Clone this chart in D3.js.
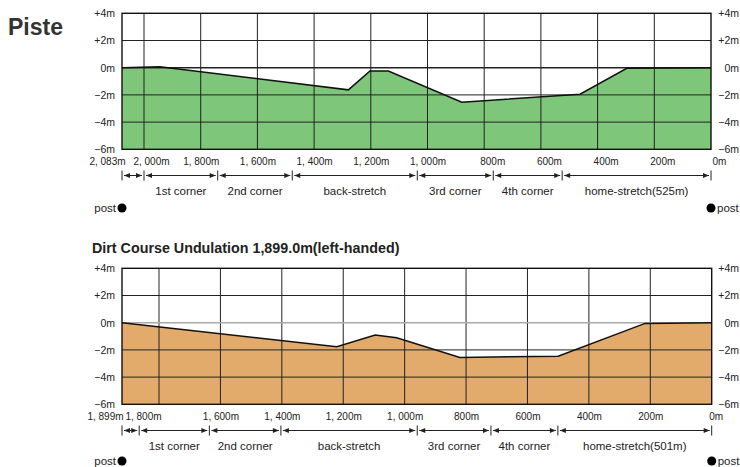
<!DOCTYPE html>
<html>
<head>
<meta charset="utf-8">
<script src="https://cdn.jsdelivr.net/npm/d3@7"></script>
<style>
  body { margin: 0; background: #fff; }
  svg { display: block; font-family: "Liberation Sans", Arial, sans-serif; }
</style>
</head>
<body>
<svg id="piste" width="740" height="467"></svg>
<script>
const elevTicks = [4, 2, 0, -2, -4, -6];

// turf course: distance to the finish (m) and height (m)
const turfDist = [2083, 1944, 1279, 1203, 1138, 879, 462, 297, 0];
const turfElev = [0, 0.07, -1.63, -0.24, -0.24, -2.54, -1.95, -0.04, 0];
const turfDistTicks = [2083, 2000, 1800, 1600, 1400, 1200, 1000, 800, 600, 400, 200, 0];
const turfSectionEnds = [2083, 2000, 1740, 1477, 1036, 768, 525, 0];
const turfSectionNames = ['', '1st corner', '2nd corner', 'back-stretch', '3rd corner', '4th corner', 'home-stretch(525m)'];

// dirt course
const dirtTitle = 'Dirt Course Undulation 1,899.0m(left-handed)';
const dirtDist = [1899, 1221, 1096, 1026, 820, 500, 217, 0];
const dirtElev = [0, -1.76, -0.91, -1.10, -2.55, -2.46, -0.05, 0];
const dirtDistTicks = [1899, 1800, 1600, 1400, 1200, 1000, 800, 600, 400, 200, 0];
const dirtSectionEnds = [1899, 1853, 1636, 1403, 959, 719, 501, 0];
const dirtSectionNames = ['', '1st corner', '2nd corner', 'back-stretch', '3rd corner', '4th corner', 'home-stretch(501m)'];

(function() {
  const svg = d3.select('#piste');

  svg.append('text')
    .attr('x', 8).attr('y', 35)
    .attr('font-size', 23).attr('font-weight', 'bold').attr('fill', '#333')
    .text('Piste');

  svg.append('text')
    .attr('x', 92).attr('y', 252.5)
    .attr('font-size', 14.3).attr('font-weight', 'bold').attr('fill', '#222')
    .text(dirtTitle);

  const panels = [
    {
      dist: turfDist, elev: turfElev, ticks: turfDistTicks,
      ends: turfSectionEnds, names: turfSectionNames,
      fill: '#7dc67a', zero: '#222',
      left: 122, kink: 144, right: 711, top: 13.3, bottom: 149.3,
      arrowY: 175.5, nameY: 194.5, postY: 212,
      nudge: d => d === 2083 ? -15 : d === 2000 ? 7 : d < 1000 ? 8 : 0
    },
    {
      dist: dirtDist, elev: dirtElev, ticks: dirtDistTicks,
      ends: dirtSectionEnds, names: dirtSectionNames,
      fill: '#e2ab6c', zero: '#aaa',
      left: 122, kink: 159, right: 711.7, top: 268.3, bottom: 404.3,
      arrowY: 430.5, nameY: 450, postY: 465,
      nudge: d => d === 1899 ? -17 : d === 1800 ? -16 : d === 0 ? 4 : 0
    }
  ];

  const fmtElev = v => (v > 0 ? '+' + v : v < 0 ? '\u2212' + (-v) : '0') + 'm';
  const fmtDist = d => (d >= 1000 ? d3.format(',')(d).replace(',', ', ') : d) + 'm';

  panels.forEach(p => {
    let x = d3.scaleLinear()
      .domain([p.ticks[0], p.ticks[1], 0])
      .range([p.left, p.kink, p.right]);
    let y = d3.scaleLinear()
      .domain([4, -6])
      .range([p.top, p.bottom]);
    let pts = p.dist.map((d, i) => ({'d': d, 'e': p.elev[i]}));

    let g = svg.append('g');

    let area = d3.area()
      .x(d => x(d.d))
      .y0(y(-6))
      .y1(d => y(d.e));
    g.append('path').attr('d', area(pts)).attr('fill', p.fill);

    // grid
    g.selectAll('.vgrid')
      .data(p.ticks.slice(1, -1))
      .enter().append('line')
      .attr('x1', d => x(d)).attr('x2', d => x(d))
      .attr('y1', p.top).attr('y2', p.bottom)
      .attr('stroke', '#222').attr('stroke-width', 1);
    g.selectAll('.hgrid')
      .data(elevTicks.slice(1, -1))
      .enter().append('line')
      .attr('x1', p.left).attr('x2', p.right)
      .attr('y1', d => y(d)).attr('y2', d => y(d))
      .attr('stroke', d => d === 0 ? p.zero : '#222')
      .attr('stroke-width', d => d === 0 ? 1.6 : 1);

    let line = d3.line()
      .x(d => x(d.d))
      .y(d => y(d.e));
    g.append('path').attr('d', line(pts))
      .attr('fill', 'none').attr('stroke', '#111').attr('stroke-width', 1.5);

    g.append('rect')
      .attr('x', p.left).attr('y', p.top)
      .attr('width', p.right - p.left).attr('height', p.bottom - p.top)
      .attr('fill', 'none').attr('stroke', '#111').attr('stroke-width', 1.4);

    // height labels, both sides
    let yAxis = d3.axisLeft(y).tickValues(elevTicks).tickSize(0).tickPadding(0).tickFormat(fmtElev);
    [115, 739].forEach(ax => {
      g.append('g')
        .attr('transform', 'translate(' + ax + ', 0)')
        .call(yAxis)
        .call(s => s.select('.domain').remove())
        .selectAll('text')
        .attr('font-size', 10.5).attr('fill', '#222')
        .attr('font-family', '"Liberation Sans", Arial, sans-serif');
    });

    // distance labels
    let xAxis = d3.axisBottom(x).tickValues(p.ticks).tickSize(0).tickPadding(9).tickFormat(fmtDist);
    g.append('g')
      .attr('transform', 'translate(0, ' + p.bottom + ')')
      .call(xAxis)
      .call(s => s.select('.domain').remove())
      .selectAll('text')
      .attr('dx', d => p.nudge(d))
      .attr('font-size', 10).attr('fill', '#222')
      .attr('font-family', '"Liberation Sans", Arial, sans-serif');

    // sections with arrows
    let ay = p.arrowY;
    let secs = p.ends.slice(0, -1).map((a, i) => ({'a': a, 'b': p.ends[i + 1], 'name': p.names[i]}));
    g.selectAll('.bar')
      .data(p.ends)
      .enter().append('line')
      .attr('x1', d => x(d)).attr('x2', d => x(d))
      .attr('y1', ay - 5).attr('y2', ay + 5)
      .attr('stroke', '#222').attr('stroke-width', 1);
    let sec = g.selectAll('.sec').data(secs).enter().append('g');
    sec.append('line')
      .attr('x1', d => x(d.a) + 2).attr('x2', d => x(d.b) - 2)
      .attr('y1', ay).attr('y2', ay)
      .attr('stroke', '#222').attr('stroke-width', 1);
    sec.append('path')
      .attr('d', d => 'M' + (x(d.a) + 2) + ',' + ay + 'l6,-2.5v5z')
      .attr('fill', '#222');
    sec.append('path')
      .attr('d', d => 'M' + (x(d.b) - 2) + ',' + ay + 'l-6,-2.5v5z')
      .attr('fill', '#222');
    sec.append('text')
      .attr('x', d => (x(d.a) + x(d.b)) / 2)
      .attr('y', p.nameY)
      .attr('text-anchor', 'middle')
      .attr('font-size', 11.5).attr('fill', '#222')
      .text(d => d.name);

    // start and finish posts
    [p.ticks[0], 0].forEach((d, i) => {
      g.append('circle')
        .attr('cx', x(d)).attr('cy', p.postY - 4)
        .attr('r', 4.5).attr('fill', '#000');
      g.append('text')
        .attr('x', x(d) + (i === 0 ? -6 : 6))
        .attr('y', p.postY)
        .attr('text-anchor', i === 0 ? 'end' : 'start')
        .attr('font-size', 11.5).attr('fill', '#222')
        .text('post');
    });
  });
})();
</script>
</body>
</html>
